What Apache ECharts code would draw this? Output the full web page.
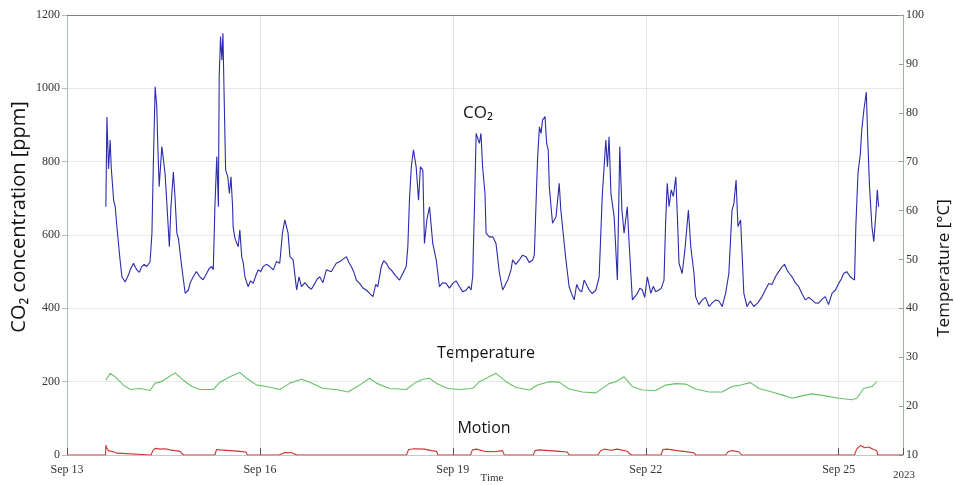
<!DOCTYPE html>
<html>
<head>
<meta charset="utf-8">
<script src="https://cdn.jsdelivr.net/npm/echarts@6/dist/echarts.min.js"></script>
<style>html,body{margin:0;padding:0;background:#fff;}#c{width:955px;height:485px;}</style>
</head>
<body>
<div id="c"></div>
<script>
// Hours since Sep 13 2023 00:00
const xTickLabels = ['Sep 13','Sep 16','Sep 19','Sep 22','Sep 25'];
const yearLabel = '2023';
const xAxisTitle = 'Time';

const co2Hours = [14.5,14.9,15.5,16.1,16.5,17.4,18.0,18.6,19.2,19.8,20.5,21.7,22.3,23.6,24.8,26.1,27.9,29.8,31.0,31.7,32.2,32.9,33.5,33.9,34.4,34.7,35.4,36.0,36.6,37.2,38.2,38.8,39.7,40.3,41.0,41.6,42.8,44.1,45.3,47.1,49.6,52.1,54.0,54.6,55.2,55.9,56.5,56.8,57.3,57.8,58.2,58.6,58.8,59.2,60.0,60.6,61.2,61.8,62.0,62.7,63.9,64.5,65.2,65.8,66.4,67.6,69.5,71.4,73.2,75.7,79.4,80.4,81.3,82.5,83.2,84.4,85.7,86.6,87.5,90.0,92.5,94.3,96.8,100.5,104.3,106.1,108.0,109.2,111.7,114.2,116.0,117.3,119.2,121.0,124.1,126.6,127.2,127.8,128.5,129.3,130.3,131.2,131.9,132.8,133.4,134.3,135.3,136.5,137.8,139.0,141.5,144.0,146.5,149.0,150.8,151.4,152.1,152.7,153.9,154.5,155.1,156.0,156.4,157.6,158.9,160.1,161.4,162.6,164.5,165.7,166.3,168.8,171.3,173.8,175.0,175.6,176.3,176.9,177.5,178.4,179.0,179.6,180.0,181.2,182.5,183.7,184.3,186.2,187.4,189.3,191.2,193.0,194.9,197.4,198.6,199.8,201.1,201.7,202.3,203.0,204.2,205.4,206.3,207.1,207.9,209.1,209.8,211.0,212.9,214.7,216.6,217.9,219.7,220.9,222.8,223.4,224.0,224.7,225.5,226.3,227.2,227.8,228.4,229.6,230.6,231.9,232.8,234.0,234.6,237.1,239.6,242.1,244.5,245.8,247.0,248.2,248.9,249.7,250.4,251.4,252.6,253.8,256.3,259.4,261.9,264.4,266.9,268.7,270.6,273.1,275.6,278.0,280.5,283.0,285.5,288.0,289.8,292.3,293.9,294.4,295.2,296.1,296.6,297.4,298.3,298.9,299.5,300.4,301.1,301.9,302.4,302.9];
const co2Values = [677,922,780,859,786,695,677,624,620,532,486,472,476,505,523,505,514,514,527,605,786,1004,950,841,732,732,841,841,768,695,568,677,772,705,605,590,514,441,450,486,486,495,514,505,677,814,677,1032,1141,1077,1150,995,923,777,759,713,759,677,622,590,568,614,541,523,486,459,468,505,514,514,523,605,641,605,541,532,450,486,459,459,468,486,505,523,541,514,477,468,450,432,459,514,523,505,477,514,568,695,786,832,786,695,786,777,577,641,677,577,532,459,468,468,459,450,450,486,686,877,850,877,786,713,605,595,595,577,495,450,477,505,532,532,541,532,550,805,895,877,914,923,850,832,732,632,650,741,668,532,459,423,450,477,450,450,486,713,859,786,868,713,650,477,841,668,605,677,577,423,441,450,486,441,445,450,477,632,741,677,723,705,759,650,523,495,559,668,568,495,432,423,405,423,405,441,495,668,686,750,623,641,441,405,405,432,468,486,514,505,486,459,423,423,414,432,441,468,495,486,477,623,768,823,886,941,990,850,732,623,582,659,723,677];
// extra readings from the flatter stretches of the CO2 trace
const co2DetailHours = [23.0,25.5,27.0,28.8,46.0,48.3,50.8,53.0,68.5,70.5,72.3,74.4,77.0,78.2,88.8,91.2,93.4,95.5,98.6,102.3,105.2,107.0,110.5,113.0,115.2,118.2,120.1,122.5,140.2,142.7,145.2,147.7,150.0,167.5,170.0,172.5,174.4,188.3,190.2,192.1,196.0,213.8,215.6,218.8,221.8,235.8,238.3,240.8,243.3,255.0,257.8,260.6,263.1,265.6,267.8,269.6,271.8,274.3,276.8,279.2,281.8,284.2,286.8,289.0,291.0];
const co2DetailValues = [492,512,498,520,470,500,478,508,475,490,500,520,505,528,470,452,480,470,500,530,525,500,455,440,465,530,510,490,470,455,475,445,460,520,545,525,545,440,465,445,440,455,430,460,455,410,430,415,420,420,415,450,465,500,520,495,470,440,430,415,425,410,450,480,500];

const tempHours = [14.5,16.1,18.0,21.1,23.6,27.3,31.0,32.9,34.7,37.2,40.3,43.4,46.6,49.6,54.6,57.1,60.8,64.5,67.0,70.8,74.5,79.4,83.2,87.5,90.6,95.6,100.5,104.9,109.2,113.0,115.4,120.4,126.6,130.3,132.8,135.3,137.8,142.1,146.5,151.4,153.9,160.1,163.9,167.6,172.6,175.6,180.0,183.7,187.4,192.4,197.4,202.3,204.8,207.9,211.0,214.7,219.7,223.4,227.2,230.9,234.6,239.6,244.5,248.2,251.4,255.1,258.2,263.1,266.9,270.6,274.3,278.0,283.0,288.0,292.9,294.8,297.3,300.4,302.2];
const tempValues = [25.3,26.7,26.0,24.3,23.4,23.6,23.2,24.7,24.9,25.7,26.8,25.3,24.0,23.4,23.4,24.9,26.0,26.9,25.7,24.3,24.0,23.4,24.7,25.5,24.9,23.6,23.4,22.9,24.3,25.7,24.7,23.6,23.4,24.9,25.5,25.7,24.7,23.6,23.4,23.6,25.0,26.7,25.0,23.8,23.3,24.3,25.0,24.9,23.5,22.9,22.7,24.6,25.0,26.0,24.0,23.3,23.2,24.3,24.6,24.5,23.5,22.9,22.9,24.0,24.3,24.8,23.6,22.9,22.3,21.6,22.1,22.5,22.1,21.6,21.3,21.6,23.6,24.0,25.0];

const motionHours = [0,14.4,14.5,14.8,15.4,16.1,17.6,18.7,19.1,31.4,32.0,32.9,34.7,36.6,38.5,40.3,42.2,43.5,55.2,55.8,57.1,60.8,64.5,66.8,67.3,79.1,79.8,81.3,83.9,85.8,115.2,115.9,116.7,126.7,127.5,129.7,133.4,136.0,137.9,138.5,150.6,151.3,152.8,155.8,159.5,162.5,163.2,174.0,174.7,176.2,179.9,183.7,186.7,187.4,198.2,199.0,200.5,203.1,205.3,209.1,210.6,221.7,222.4,223.9,227.6,230.2,233.9,234.7,245.9,246.6,248.1,250.7,251.8,293.9,294.7,296.2,297.7,299.2,301.0,302.2,302.6,312];
const motionValues = [0,0,27,20,12,10,8,5,0,0,12,18,16,17,14,12,10,0,0,15,14,12,10,8,0,0,5,7,6,0,0,3,0,0,15,17,16,12,10,0,0,14,16,10,9,12,0,0,12,14,12,10,8,0,0,10,16,13,16,10,0,0,15,16,12,10,6,0,0,8,12,9,0,0,16,26,20,22,15,12,0,0];

const zip = (a, b) => a.map((v, i) => [v, b[i]]);
const co2Data = zip(co2Hours, co2Values).concat(zip(co2DetailHours, co2DetailValues)).sort((p, q) => p[0] - q[0]);

const chart = echarts.init(document.getElementById('c'), null, {renderer: 'canvas'});
const serif = '"Liberation Serif", "DejaVu Serif", serif';
const sans = '"Open Sans", "Noto Sans", "DejaVu Sans", sans-serif';

chart.setOption({
  animation: false,
  backgroundColor: '#fff',
  grid: {left: 67, right: 52, top: 15, bottom: 30, containLabel: false, outerBoundsMode: 'none'},
  xAxis: [{
    type: 'value', min: 0, max: 312, interval: 72,
    axisLine: {show: true, onZero: false, lineStyle: {color: '#c8c8c8', width: 1}},
    axisTick: {show: true, inside: true, length: 7, lineStyle: {color: '#555'}},
    axisLabel: {fontFamily: serif, fontSize: 12, color: '#333', margin: 9,
      formatter: v => (v % 72 === 0 && v < 312) ? xTickLabels[v / 72] : ''},
    splitLine: {show: true, lineStyle: {color: '#e4e4e4', width: 1}}
  }, {
    type: 'value', min: 0, max: 312, position: 'top',
    axisLine: {show: true, onZero: false, lineStyle: {color: '#808080', width: 1}},
    axisTick: {show: false}, axisLabel: {show: false}, splitLine: {show: false}
  }],
  yAxis: [{
    type: 'value', min: 0, max: 1200, interval: 200,
    axisLine: {show: true, onZero: false, lineStyle: {color: '#a8bfcc', width: 1}},
    axisTick: {show: true, length: 5, lineStyle: {color: '#bbb'}},
    axisLabel: {fontFamily: serif, fontSize: 12, color: '#333', margin: 7, formatter: v => String(v)},
    splitLine: {show: true, lineStyle: {color: '#e8e8e8', width: 1}}
  }, {
    type: 'value', min: 10, max: 100, interval: 10, position: 'right',
    axisLine: {show: true, onZero: false, lineStyle: {color: '#8cbf8c', width: 1}},
    axisTick: {show: true, inside: true, length: 4, lineStyle: {color: '#999'}},
    axisLabel: {fontFamily: serif, fontSize: 12, color: '#333', margin: 3, formatter: v => String(v)},
    splitLine: {show: false}
  }],
  series: [{
    name: 'Motion', type: 'line', xAxisIndex: 0, yAxisIndex: 0,
    data: zip(motionHours, motionValues), showSymbol: false,
    lineStyle: {color: '#cc3333', width: 1.1}, z: 3
  }, {
    name: 'Temperature', type: 'line', xAxisIndex: 0, yAxisIndex: 1,
    data: zip(tempHours, tempValues), showSymbol: false,
    lineStyle: {color: '#66c266', width: 1.1}, z: 3
  }, {
    name: 'CO2', type: 'line', xAxisIndex: 0, yAxisIndex: 0,
    data: co2Data, showSymbol: false,
    lineStyle: {color: '#2b2bab', width: 1.1}, z: 4
  }],
  graphic: [
    {type: 'text', rotation: Math.PI / 2, x: 19, y: 217,
      style: {text: 'CO₂ concentration [ppm]', font: '20px ' + sans, fill: '#111',
        align: 'center', verticalAlign: 'middle'}},
    {type: 'text', rotation: Math.PI / 2, x: 944, y: 268,
      style: {text: 'Temperature [°C]', font: '17px ' + sans, fill: '#111',
        align: 'center', verticalAlign: 'middle'}},
    {type: 'text', x: 478, y: 113,
      style: {text: 'CO₂', font: '17px ' + sans, fill: '#111', align: 'center', verticalAlign: 'middle'}},
    {type: 'text', x: 486, y: 353,
      style: {text: 'Temperature', font: '16px ' + sans, fill: '#111', align: 'center', verticalAlign: 'middle'}},
    {type: 'text', x: 484, y: 428,
      style: {text: 'Motion', font: '16px ' + sans, fill: '#111', align: 'center', verticalAlign: 'middle'}},
    {type: 'text', x: 492, y: 478,
      style: {text: xAxisTitle, font: '11px ' + serif, fill: '#333', align: 'center', verticalAlign: 'middle'}},
    {type: 'text', x: 904, y: 475,
      style: {text: yearLabel, font: '11px ' + serif, fill: '#333', align: 'center', verticalAlign: 'middle'}}
  ]
});
</script>
</body>
</html>
